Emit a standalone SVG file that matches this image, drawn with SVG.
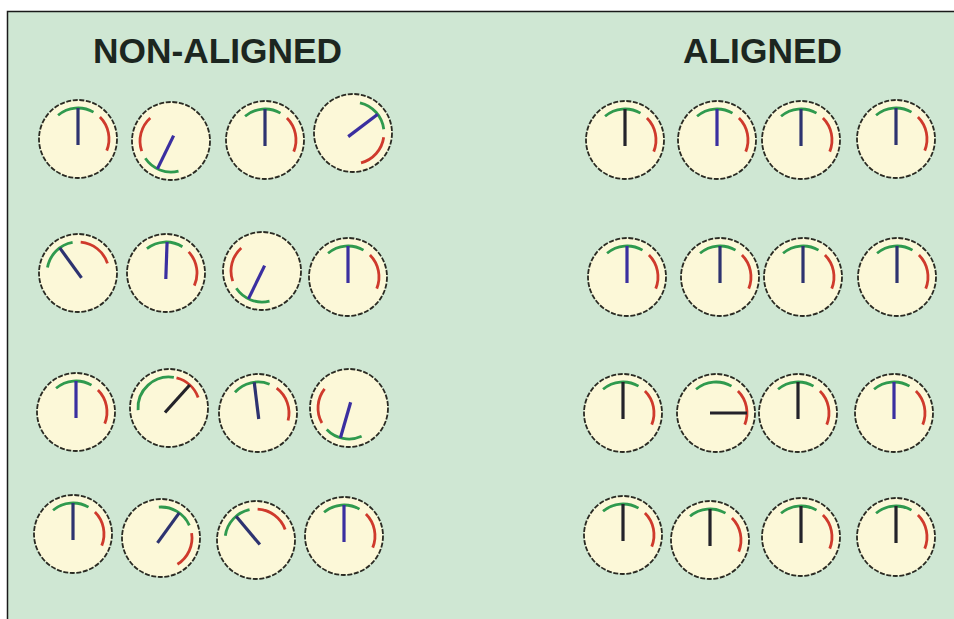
<svg xmlns="http://www.w3.org/2000/svg" xmlns:xlink="http://www.w3.org/1999/xlink" width="954" height="619" viewBox="0 0 954 619">
<style>
.title{font-family:"Liberation Sans",Arial,sans-serif;font-weight:bold;font-size:35px;fill:#1c2620}
.face{fill:#fcf8d8;stroke:#2a2a22;stroke-width:1.8;stroke-dasharray:5 1.6}
.g{fill:none;stroke:#2f9a4e;stroke-width:2.8;stroke-linecap:butt}
.r{fill:none;stroke:#cf3a2c;stroke-width:2.8;stroke-linecap:butt}
.n{fill:none;stroke:#2d3370;stroke-width:3.2;stroke-linecap:butt}
.nb{stroke:#3a2fa0}
.nk{stroke:#23232a}
</style>
<defs>
<g id="arcs">
<path class="g" d="M -19.93 -23.75 A 31 31 0 0 1 15.5 -26.85"/>
<path class="r" d="M 21.92 -21.92 A 31 31 0 0 1 28.74 11.61"/>
</g>
<path id="needle" d="M 0 6 L 0 -31"/>
</defs>
<rect x="0" y="0" width="954" height="619" fill="#ffffff"/>
<rect x="7.5" y="11.5" width="960" height="620" fill="#cfe7d3" stroke="#1a1a1a" stroke-width="1.5"/>
<text class="title" x="93" y="63" textLength="249" lengthAdjust="spacingAndGlyphs">NON-ALIGNED</text>
<text class="title" x="683" y="63" textLength="159" lengthAdjust="spacingAndGlyphs">ALIGNED</text>

<g id="non-aligned">
<g id="na-1-1" transform="translate(78,139)"><circle class="face" r="39"/><use href="#arcs"/><use href="#needle" class="n"/></g>
<g id="na-1-2" transform="translate(171,141)"><circle class="face" r="39"/><use href="#arcs" transform="rotate(206)"/><use href="#needle" class="n nb" transform="rotate(206)"/></g>
<g id="na-1-3" transform="translate(265,140)"><circle class="face" r="39"/><use href="#arcs"/><use href="#needle" class="n"/></g>
<g id="na-1-4" transform="translate(353,133)"><circle class="face" r="39"/><use href="#arcs" transform="rotate(53)"/><use href="#needle" class="n nb" transform="rotate(53)"/></g>

<g id="na-2-1" transform="translate(78,273)"><circle class="face" r="39"/><use href="#arcs" transform="rotate(-40)"/><use href="#needle" class="n" transform="rotate(-36)"/></g>
<g id="na-2-2" transform="translate(166,273)"><circle class="face" r="39"/><use href="#arcs" transform="rotate(2)"/><use href="#needle" class="n nb" transform="rotate(2)"/></g>
<g id="na-2-3" transform="translate(262,271)"><circle class="face" r="39"/><use href="#arcs" transform="rotate(206)"/><use href="#needle" class="n nb" transform="rotate(206)"/></g>
<g id="na-2-4" transform="translate(348,277)"><circle class="face" r="39"/><use href="#arcs"/><use href="#needle" class="n nb"/></g>

<g id="na-3-1" transform="translate(76,412)"><circle class="face" r="39"/><use href="#arcs"/><use href="#needle" class="n nb"/></g>
<g id="na-3-2" transform="translate(169,408)"><circle class="face" r="39"/>
<path class="g" d="M -30.92 2.16 A 31 31 0 0 1 4.85 -30.62"/>
<path class="r" d="M 7.5 -30.08 A 31 31 0 0 1 29.13 -10.6"/>
<use href="#needle" class="n nk" transform="rotate(42)"/></g>
<g id="na-3-3" transform="translate(258,413)"><circle class="face" r="39"/><use href="#arcs" transform="rotate(-8)"/><use href="#needle" class="n" transform="rotate(-7)"/></g>
<g id="na-3-4" transform="translate(349,408)"><circle class="face" r="39"/><use href="#arcs" transform="rotate(196)"/><use href="#needle" class="n nb" transform="rotate(196)"/></g>

<g id="na-4-1" transform="translate(73,534)"><circle class="face" r="39"/><use href="#arcs"/><use href="#needle" class="n"/></g>
<g id="na-4-2" transform="translate(161,538)"><circle class="face" r="39"/><use href="#arcs" transform="rotate(36)"/><use href="#needle" class="n" transform="rotate(36)"/></g>
<g id="na-4-3" transform="translate(256,540)"><circle class="face" r="39"/><use href="#arcs" transform="rotate(-42)"/><use href="#needle" class="n" transform="rotate(-40)"/></g>
<g id="na-4-4" transform="translate(344,536)"><circle class="face" r="39"/><use href="#arcs"/><use href="#needle" class="n nb"/></g>
</g>

<g id="aligned">
<g id="al-1-1" transform="translate(625,140)"><circle class="face" r="39"/><use href="#arcs"/><use href="#needle" class="n nk"/></g>
<g id="al-1-2" transform="translate(717,140)"><circle class="face" r="39"/><use href="#arcs"/><use href="#needle" class="n nb"/></g>
<g id="al-1-3" transform="translate(801,140)"><circle class="face" r="39"/><use href="#arcs"/><use href="#needle" class="n"/></g>
<g id="al-1-4" transform="translate(896,139)"><circle class="face" r="39"/><use href="#arcs"/><use href="#needle" class="n"/></g>

<g id="al-2-1" transform="translate(627,277)"><circle class="face" r="39"/><use href="#arcs"/><use href="#needle" class="n nb"/></g>
<g id="al-2-2" transform="translate(720,277)"><circle class="face" r="39"/><use href="#arcs"/><use href="#needle" class="n"/></g>
<g id="al-2-3" transform="translate(803,277)"><circle class="face" r="39"/><use href="#arcs"/><use href="#needle" class="n"/></g>
<g id="al-2-4" transform="translate(897,277)"><circle class="face" r="39"/><use href="#arcs"/><use href="#needle" class="n"/></g>

<g id="al-3-1" transform="translate(623,413)"><circle class="face" r="39"/><use href="#arcs"/><use href="#needle" class="n nk"/></g>
<g id="al-3-2" transform="translate(716,413)"><circle class="face" r="39"/><use href="#arcs"/><use href="#needle" class="n nk" transform="rotate(90)"/></g>
<g id="al-3-3" transform="translate(798,413)"><circle class="face" r="39"/><use href="#arcs"/><use href="#needle" class="n nk"/></g>
<g id="al-3-4" transform="translate(894,413)"><circle class="face" r="39"/><use href="#arcs"/><use href="#needle" class="n nb"/></g>

<g id="al-4-1" transform="translate(623,535)"><circle class="face" r="39"/><use href="#arcs"/><use href="#needle" class="n nk"/></g>
<g id="al-4-2" transform="translate(710,540)"><circle class="face" r="39"/><use href="#arcs"/><use href="#needle" class="n nk"/></g>
<g id="al-4-3" transform="translate(801,537)"><circle class="face" r="39"/><use href="#arcs"/><use href="#needle" class="n nk"/></g>
<g id="al-4-4" transform="translate(896,537)"><circle class="face" r="39"/><use href="#arcs"/><use href="#needle" class="n nk"/></g>
</g>
</svg>
